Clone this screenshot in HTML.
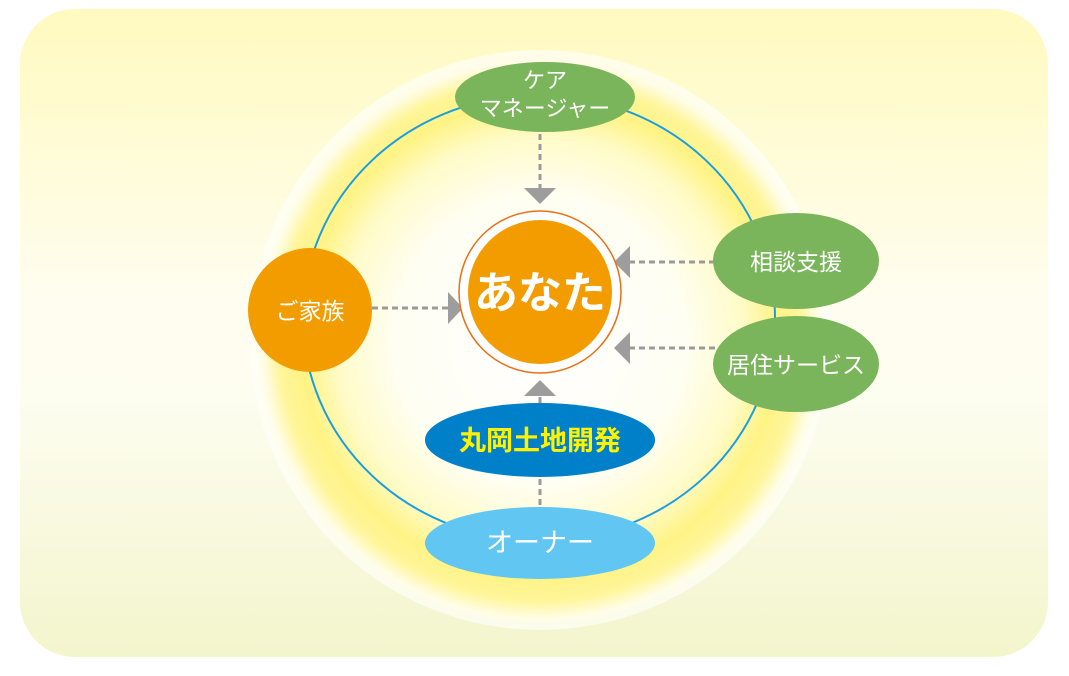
<!DOCTYPE html>
<html><head><meta charset="utf-8"><style>
html,body{margin:0;padding:0;background:#fff;}
body{width:1069px;height:671px;overflow:hidden;}
text{font-family:"Liberation Sans","Noto Sans CJK JP",sans-serif;}
</style></head><body>
<svg width="1069" height="671" viewBox="0 0 1069 671" xmlns="http://www.w3.org/2000/svg">
<defs>
<linearGradient id="bg" x1="0" y1="0" x2="0" y2="1">
<stop offset="0" stop-color="#fffabf"/>
<stop offset="0.45" stop-color="#fffdf0"/>
<stop offset="0.6" stop-color="#fdfdf0"/>
<stop offset="1" stop-color="#f3f5cc"/>
</linearGradient>
<radialGradient id="glow" cx="540" cy="340" r="290" gradientUnits="userSpaceOnUse">
<stop offset="0" stop-color="#ffffff"/>
<stop offset="0.5" stop-color="#fffef2"/>
<stop offset="0.7" stop-color="#fffbc8"/>
<stop offset="0.82" stop-color="#fff385"/>
<stop offset="0.9" stop-color="#fff59a"/>
<stop offset="0.96" stop-color="#fffde6"/>
<stop offset="1" stop-color="#ffffff" stop-opacity="0.6"/>
</radialGradient>
</defs>
<rect x="20" y="9" width="1028" height="648" rx="55" fill="url(#bg)"/>
<circle cx="540" cy="340" r="290" fill="url(#glow)"/>
<ellipse cx="539" cy="318" rx="236" ry="223" fill="none" stroke="#1a9ee0" stroke-width="2"/>
<g stroke="#9a9a9a" stroke-width="3" stroke-dasharray="6,4" fill="none">
<line x1="540" y1="134" x2="540" y2="188"/>
<line x1="372" y1="308" x2="448" y2="308"/>
<line x1="715" y1="262" x2="630" y2="262"/>
<line x1="715" y1="348" x2="630" y2="348"/>
<line x1="540" y1="505" x2="540" y2="478"/>
<line x1="540" y1="403" x2="540" y2="396"/>
</g>
<g fill="#9d9d9d">
<polygon points="524,188 556,188 540,204"/>
<polygon points="448,292 448,324 463,308"/>
<polygon points="630,246 630,278 614,262"/>
<polygon points="630,332 630,364 614,348"/>
<polygon points="524,396 556,396 540,380"/>
</g>
<circle cx="540" cy="292" r="81" fill="#fff" stroke="#ea6f12" stroke-width="1.5"/>
<circle cx="540" cy="292" r="72" fill="#f39c00"/>
<text x="540" y="308" text-anchor="middle" font-size="44" font-weight="bold" fill="#fff">あなた</text>
<ellipse cx="545" cy="97" rx="90" ry="35" fill="#7ab55c"/>
<text x="545" y="88" text-anchor="middle" font-size="22" fill="#fff">ケア</text>
<text x="545" y="116" text-anchor="middle" font-size="22" fill="#fff">マネージャー</text>
<ellipse cx="796" cy="261" rx="83" ry="48" fill="#7ab55c"/>
<text x="796" y="270" text-anchor="middle" font-size="23" fill="#fff">相談支援</text>
<ellipse cx="796" cy="364" rx="83" ry="48" fill="#7ab55c"/>
<text x="796" y="373" text-anchor="middle" font-size="23" fill="#fff">居住サービス</text>
<circle cx="310" cy="310" r="62" fill="#f39c00"/>
<text x="310" y="319" text-anchor="middle" font-size="23" fill="#fff">ご家族</text>
<ellipse cx="540" cy="440" rx="115" ry="37" fill="#0080c8"/>
<text x="540" y="450" text-anchor="middle" font-size="27" font-weight="bold" fill="#fff200">丸岡土地開発</text>
<ellipse cx="540" cy="543" rx="115" ry="36" fill="#62c6f2"/>
<text x="540" y="552" text-anchor="middle" font-size="27" fill="#fff">オーナー</text>
</svg>
</body></html>
